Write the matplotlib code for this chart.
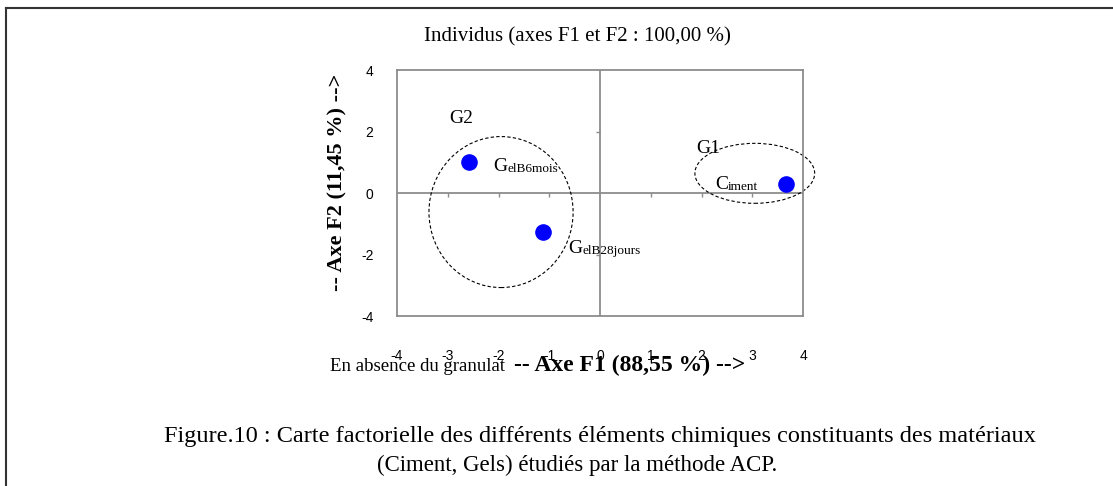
import numpy as np
import matplotlib.pyplot as plt
from matplotlib.patches import Ellipse
from matplotlib.lines import Line2D

plt.rcParams["axes.unicode_minus"] = False

# individus (coordonnees F1, F2)
noms = ["GelB6mois", "GelB28jours", "Ciment"]
f1 = [-2.58, -1.12, 3.66]
f2 = [1.00, -1.28, 0.30]

# groupes entoures
groupes = ["G1", "G2"]
g_centre_f1 = [3.05, -1.95]
g_centre_f2 = [0.64, -0.62]
g_largeur = [2.36, 2.84]
g_hauteur = [1.95, 4.91]

ticks = [-4, -3, -2, -1, 0, 1, 2, 3, 4]
yticks = [-4, -2, 0, 2, 4]

W, H = 1113, 486
fig = plt.figure(figsize=(W / 100, H / 100), dpi=100)
ax = fig.add_axes([397 / W, 1 - 316 / H, 406 / W, 246 / H])

serif = "Liberation Serif"
sans = "Liberation Sans"
grey = "#8c8c8c"

ax.set_xlim(-4, 4)
ax.set_ylim(-4, 4)
for s in ax.spines.values():
    s.set_color(grey)
    s.set_linewidth(1.3)

ax.axhline(0, color=grey, lw=1.3, zorder=1)
ax.axvline(0, color=grey, lw=1.3, zorder=1)
# petites graduations sur les axes du centre
xt = [t for t in ticks if t not in (-4, 0, 4)]
ax.plot(xt, np.zeros(len(xt)), ls="none", marker=3, ms=3, color=grey, mew=1, clip_on=False)
yt = [t for t in yticks if t not in (-4, 0, 4)]
ax.plot(np.zeros(len(yt)), yt, ls="none", marker=0, ms=3, color=grey, mew=1, clip_on=False)

ax.set_xticks(ticks)
ax.set_yticks(yticks)
ax.tick_params(axis="x", length=0, pad=24, labelsize=10)
ax.tick_params(axis="y", length=0, pad=17, labelsize=10)
for lab in ax.get_xticklabels() + ax.get_yticklabels():
    lab.set_fontfamily(sans)

ax.scatter(f1, f2, s=120, color="#0000ff", zorder=3, clip_on=False)

# etiquettes : premiere lettre grande, le reste en petit
offsets = [(17.3, -6.3), (17.8, -14.9), (-51, -3.8)]
for nom, x, y, off in zip(noms, f1, f2, offsets):
    t1 = ax.annotate(nom[0], (x, y), xytext=off, textcoords="offset points",
                     fontsize=14, family=serif, va="baseline", ha="left")
    ax.annotate(nom[1:], xy=(1, 0), xycoords=t1, fontsize=9.5, family=serif,
                va="bottom", ha="left")

for g, cx, cy, w, h in zip(groupes, g_centre_f1, g_centre_f2, g_largeur, g_hauteur):
    ax.add_patch(Ellipse((cx, cy), w, h, fill=False, ls=(0, (3, 2)), lw=0.8,
                         color="black", clip_on=False, zorder=2))

ax.text(2.13, 1.46, "G1", fontsize=14, family=serif, ha="center", va="center")
ax.text(-2.74, 2.41, "G2", fontsize=14, family=serif, ha="center", va="center")

# titres
fig.text(577 / W, 1 - 37 / H, "Individus (axes F1 et F2 : 100,00 %)",
         fontsize=15, family=serif, ha="center", va="center")
fig.text(337 / W, 1 - 182 / H, "-- Axe F2 (11,45 %) -->", fontsize=16,
         family=serif, weight="bold", rotation=90, ha="center", va="center")
fig.text(505 / W, 1 - 366 / H, "En absence du granulat", fontsize=13.5,
         family=serif, ha="right", va="center")
fig.text(514 / W, 1 - 365 / H, "-- Axe F1 (88,55 %) -->", fontsize=17,
         family=serif, weight="bold", ha="left", va="center")

fig.text(600 / W, 1 - 436 / H,
         "Figure.10 : Carte factorielle des différents éléments chimiques constituants des matériaux",
         fontsize=17.5, family=serif, ha="center", va="center")
fig.text(577 / W, 1 - 465 / H,
         "(Ciment, Gels) étudiés par la méthode ACP.",
         fontsize=16.5, family=serif, ha="center", va="center")

# cadre de la page
fig.add_artist(Line2D([6 / W, 1], [1 - 8 / H, 1 - 8 / H], color="#333333", lw=1.5))
fig.add_artist(Line2D([6 / W, 6 / W], [0, 1 - 8 / H], color="#333333", lw=1.5))

fig.savefig("out.png", dpi=100)
